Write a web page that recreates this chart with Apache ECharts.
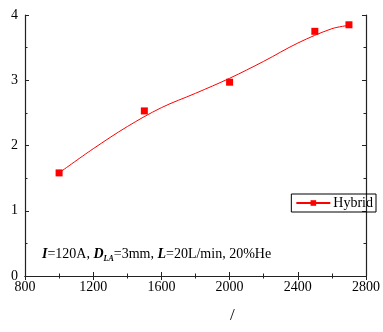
<!DOCTYPE html>
<html><head><meta charset="utf-8">
<script src="https://cdn.jsdelivr.net/npm/echarts@6/dist/echarts.min.js"></script>
<style>html,body{margin:0;padding:0;background:#fff}#c{width:383px;height:332px}</style>
</head><body><div id="c"></div>
<script>
const pointX = [1000, 1500, 2000, 2500, 2700];
const pointY = [1.58, 2.53, 2.97, 3.75, 3.85];
const curveX = [1000, 1200, 1400, 1600, 1800, 2000, 2200, 2400, 2600, 2700];
const curveY = [1.58, 1.95, 2.29, 2.58, 2.80, 3.03, 3.29, 3.57, 3.79, 3.84];
const xTicks = [800, 1200, 1600, 2000, 2400, 2800];
const yTicks = [0, 1, 2, 3, 4];

const font = 'Liberation Serif';
const chart = echarts.init(document.getElementById('c'));
const axisLine = {show: true, lineStyle: {color: '#222', width: 1.2}};
const tick = {show: true, inside: true, length: 4, lineStyle: {color: '#222'}};
const minor = {show: true, splitNumber: 2, length: 2.5, lineStyle: {color: '#222'}};
chart.setOption({
  animation: false,
  grid: {left: 25, right: 6.5, top: 15, bottom: 56},
  xAxis: [{
    type: 'value', min: xTicks[0], max: xTicks[xTicks.length - 1], interval: 400,
    axisLine, axisTick: tick, minorTick: minor,
    splitLine: {show: false},
    axisLabel: {fontFamily: font, fontSize: 14, color: '#000', margin: 4, showMaxLabel: true,
      alignMaxLabel: 'center', alignMinLabel: 'center', hideOverlap: false,
      formatter: v => String(v)}
  }, {
    type: 'value', position: 'top', min: xTicks[0], max: xTicks[xTicks.length - 1], interval: 400,
    axisLine, axisTick: tick, minorTick: minor, splitLine: {show: false}, axisLabel: {show: false}
  }],
  yAxis: [{
    type: 'value', min: yTicks[0], max: yTicks[yTicks.length - 1], interval: 1,
    axisLine, axisTick: tick, minorTick: minor, splitLine: {show: false},
    axisLabel: {fontFamily: font, fontSize: 14, color: '#000', margin: 7}
  }, {
    type: 'value', position: 'right', min: yTicks[0], max: yTicks[yTicks.length - 1], interval: 1,
    axisLine, axisTick: tick, minorTick: minor, splitLine: {show: false}, axisLabel: {show: false}
  }],
  legend: {
    data: ['Hybrid'], right: 7, top: 194, orient: 'vertical',
    borderColor: '#000', borderWidth: 1, borderRadius: 0, padding: [2, 3, 2, 4],
    itemWidth: 34, itemHeight: 7, itemGap: 0,
    textStyle: {fontFamily: font, fontSize: 14, color: '#000', padding: [0, 0, 0, -2]}
  },
  series: [{
    name: 'Hybrid', type: 'line', smooth: 0.35, symbol: 'rect', symbolSize: 7, showSymbol: false,
    itemStyle: {color: '#ff0000'}, lineStyle: {color: '#ff0000', width: 1},
    data: curveX.map((x, i) => [x, curveY[i]]), silent: true
  }, {
    name: 'Hybrid', type: 'scatter', symbol: 'rect', symbolSize: 7,
    itemStyle: {color: '#ff0000', opacity: 1},
    data: pointX.map((x, i) => [x, pointY[i]])
  }],
  graphic: [{
    type: 'text', left: 42, top: 247,
    style: {
      text: '{b|I}{n|=120A, }{b|D}{s|LA}{n|=3mm, }{b|L}{n|=20L/min, 20%He}',
      rich: {
        b: {fontFamily: font, fontSize: 14, fontWeight: 'bold', fontStyle: 'italic', fill: '#000'},
        n: {fontFamily: font, fontSize: 14, fill: '#000'},
        s: {fontFamily: font, fontSize: 8, fontWeight: 'bold', fontStyle: 'italic', fill: '#000', padding: [9, 0, 0, 0]}
      }
    }
  }, {
    type: 'text', left: 230, top: 307,
    style: {text: '/', fontFamily: font, fontSize: 17, fill: '#000'}
  }]
});
</script></body></html>
